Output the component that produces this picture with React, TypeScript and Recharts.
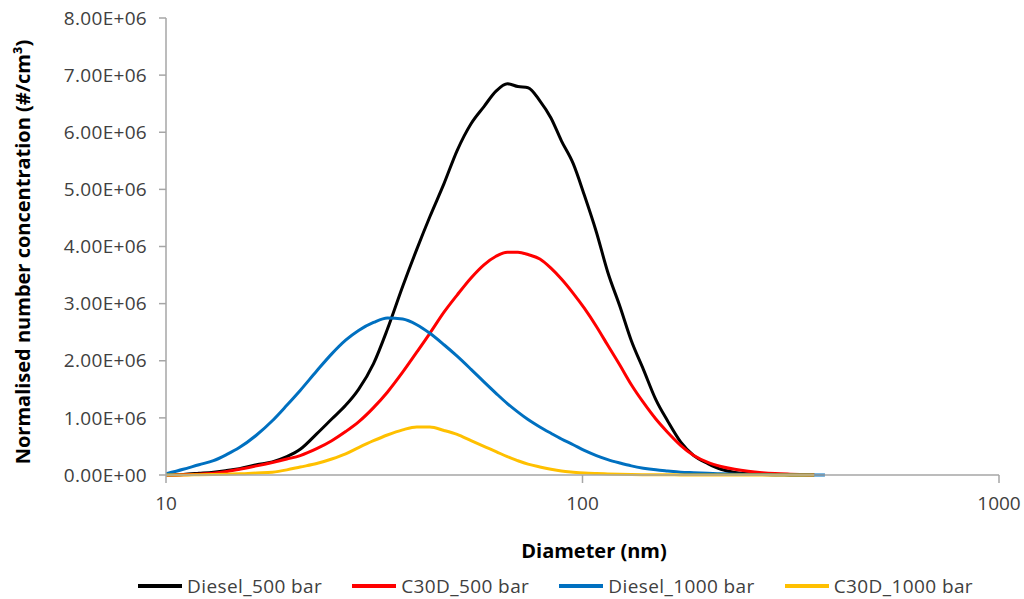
import { LineChart, Line, XAxis, YAxis, Legend } from "recharts";

// particle diameter channels (nm)
const diameters = [
  10, 11, 12, 13, 14, 15, 16.5, 18, 19.5, 21, 23, 25, 27, 29, 31.5, 34, 37, 40,
  43, 46.5, 50, 54, 58, 62, 66, 70, 74, 79, 84, 89, 95, 101, 108, 115, 123, 131,
  140, 150, 160, 172, 185, 200, 215, 232, 250, 270, 290, 315, 340, 360, 382,
];

const diesel500 = [
  0, 0.01e6, 0.03e6, 0.05e6, 0.08e6, 0.11e6, 0.18e6, 0.23e6, 0.32e6, 0.45e6,
  0.72e6, 0.98e6, 1.22e6, 1.5e6, 1.95e6, 2.55e6, 3.3e6, 3.95e6, 4.52e6, 5.1e6,
  5.68e6, 6.15e6, 6.45e6, 6.72e6, 6.85e6, 6.8e6, 6.78e6, 6.55e6, 6.25e6, 5.85e6,
  5.45e6, 4.9e6, 4.25e6, 3.55e6, 2.95e6, 2.35e6, 1.85e6, 1.32e6, 0.95e6, 0.58e6,
  0.34e6, 0.2e6, 0.1e6, 0.045e6, 0.02e6, 0.01e6, 0.005e6, 0.002e6, 0.001e6, 0,
  null,
];

const c30d500 = [
  0, 0.005e6, 0.015e6, 0.03e6, 0.06e6, 0.1e6, 0.16e6, 0.22e6, 0.28e6, 0.34e6,
  0.46e6, 0.6e6, 0.76e6, 0.93e6, 1.18e6, 1.45e6, 1.8e6, 2.15e6, 2.48e6, 2.85e6,
  3.15e6, 3.45e6, 3.68e6, 3.83e6, 3.9e6, 3.9e6, 3.86e6, 3.78e6, 3.62e6, 3.43e6,
  3.18e6, 2.92e6, 2.6e6, 2.27e6, 1.92e6, 1.58e6, 1.27e6, 0.98e6, 0.75e6, 0.52e6,
  0.34e6, 0.22e6, 0.15e6, 0.1e6, 0.065e6, 0.04e6, 0.025e6, 0.015e6, 0.008e6,
  0.003e6, null,
];

const diesel1000 = [
  0.02e6, 0.1e6, 0.18e6, 0.25e6, 0.36e6, 0.48e6, 0.7e6, 0.95e6, 1.22e6, 1.48e6,
  1.82e6, 2.12e6, 2.36e6, 2.53e6, 2.67e6, 2.75e6, 2.73e6, 2.63e6, 2.48e6, 2.28e6,
  2.08e6, 1.85e6, 1.63e6, 1.43e6, 1.25e6, 1.1e6, 0.97e6, 0.84e6, 0.73e6, 0.63e6,
  0.53e6, 0.43e6, 0.34e6, 0.27e6, 0.21e6, 0.16e6, 0.12e6, 0.09e6, 0.07e6, 0.05e6,
  0.04e6, 0.03e6, 0.02e6, 0.015e6, 0.01e6, 0.008e6, 0.006e6, 0.004e6, 0.003e6,
  0.002e6, 0,
];

const c30d1000 = [
  0, 0, 0.005e6, 0.01e6, 0.015e6, 0.02e6, 0.035e6, 0.05e6, 0.09e6, 0.14e6,
  0.2e6, 0.28e6, 0.37e6, 0.48e6, 0.6e6, 0.7e6, 0.79e6, 0.84e6, 0.84e6, 0.78e6,
  0.71e6, 0.6e6, 0.5e6, 0.41e6, 0.32e6, 0.25e6, 0.19e6, 0.14e6, 0.1e6, 0.07e6,
  0.05e6, 0.035e6, 0.025e6, 0.018e6, 0.012e6, 0.008e6, 0.006e6, 0.004e6,
  0.003e6, 0.002e6, 0.002e6, 0.001e6, 0.001e6, 0.001e6, 0, 0, 0, 0, 0, 0, null,
];

const xTicks = [10, 100, 1000];
const yTicks = [0, 1e6, 2e6, 3e6, 4e6, 5e6, 6e6, 7e6, 8e6];

const series = [
  { key: "diesel500", name: "Diesel_500 bar", color: "#000000", values: diesel500 },
  { key: "c30d500", name: "C30D_500 bar", color: "#ff0000", values: c30d500 },
  { key: "diesel1000", name: "Diesel_1000 bar", color: "#0070c0", values: diesel1000 },
  { key: "c30d1000", name: "C30D_1000 bar", color: "#ffc000", values: c30d1000 },
];

const data = diameters.map((d, i) => {
  const row: Record<string, number | null> = { d };
  series.forEach((s) => {
    row[s.key] = s.values[i];
  });
  return row;
});

const FONT = "'Open Sans', sans-serif";
const AXIS = "#a6a6a6";

const sci = (v: number) => {
  const [m, e] = v.toExponential(2).split("e");
  return `${m}E${e[0]}${e.slice(1).padStart(2, "0")}`;
};

const LegendContent = () => (
  <div
    style={{
      display: "flex",
      alignItems: "center",
      fontFamily: FONT,
      fontSize: 19,
      letterSpacing: 0.4,
      color: "#404040",
      whiteSpace: "nowrap",
    }}
  >
    {series.map((s) => (
      <div key={s.key} style={{ display: "flex", alignItems: "center", marginRight: 30 }}>
        <div style={{ width: 44, height: 3.5, background: s.color, marginRight: 5 }} />
        <span>{s.name}</span>
      </div>
    ))}
  </div>
);

export default function App() {
  return (
    <div style={{ position: "absolute", left: 0, top: 0 }}>
      <LineChart width={1024} height={599} data={data} margin={{ top: 18, right: 25, bottom: 0, left: 0 }}>
        <XAxis
          dataKey="d"
          type="number"
          scale="log"
          domain={[10, 1000]}
          ticks={xTicks}
          allowDataOverflow
          height={124}
          stroke={AXIS}
          strokeWidth={1.5}
          tickSize={8}
          tickMargin={14}
          tick={{ fill: "#404040", fontFamily: FONT, fontSize: 19 }}
          label={() => (
            <text x={594} y={550} textAnchor="middle" dominantBaseline="central" fontFamily={FONT} fontSize={20} fontWeight="bold" fill="#000">
              Diameter (nm)
            </text>
          )}
        />
        <YAxis
          type="number"
          domain={[0, 8e6]}
          ticks={yTicks}
          width={166}
          stroke={AXIS}
          strokeWidth={1.5}
          tickSize={7}
          tickMargin={12}
          tickFormatter={sci}
          tick={{ fill: "#404040", fontFamily: FONT, fontSize: 19, letterSpacing: 0.3 }}
          label={() => (
            <text
              x={22}
              y={252}
              transform="rotate(-90 22 252)"
              textAnchor="middle"
              dominantBaseline="central"
              fontFamily={FONT}
              fontSize={20}
              fontWeight="bold"
              fill="#000"
            >
              Normalised number concentration (#/cm³)
            </text>
          )}
        />
        <Legend
          layout="horizontal"
          verticalAlign="middle"
          align="center"
          content={LegendContent}
          wrapperStyle={{ position: "absolute", left: 138, top: 573, width: 886, height: 26 }}
        />
        {series.map((s) => (
          <Line
            key={s.key}
            dataKey={s.key}
            name={s.name}
            type="monotone"
            stroke={s.color}
            strokeWidth={3}
            dot={false}
            activeDot={false}
            connectNulls={false}
            isAnimationActive={false}
          />
        ))}
      </LineChart>
    </div>
  );
}
